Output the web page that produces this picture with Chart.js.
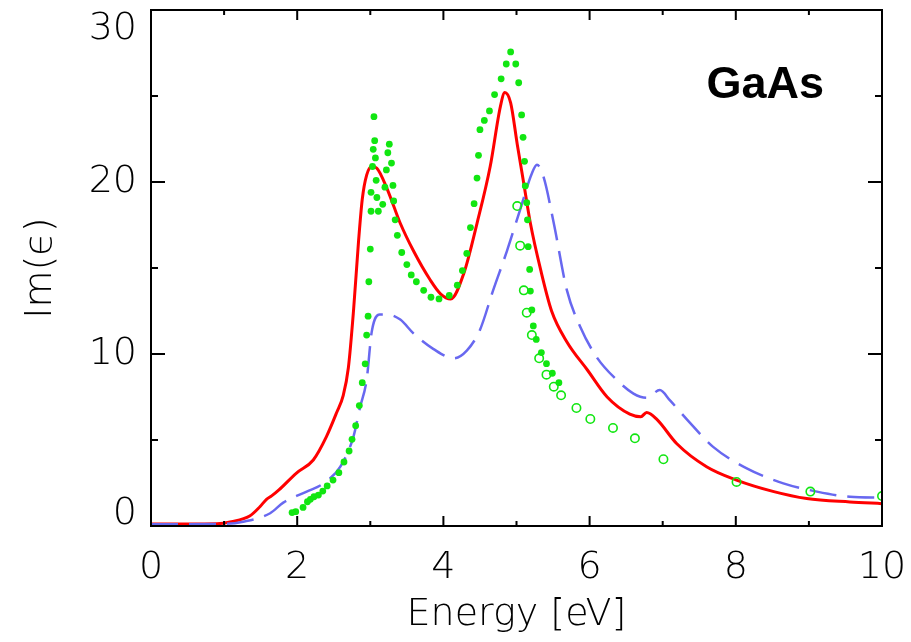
<!DOCTYPE html>
<html><head><meta charset="utf-8">
<script src="https://cdn.jsdelivr.net/npm/chart.js@4.4.1/dist/chart.umd.min.js"></script>
<style>html,body{margin:0;padding:0;background:#fff;}canvas{display:block;}</style>
</head><body>
<canvas id="c" width="911" height="642"></canvas>
<script>
// ---- data ----
const redEnergy = [0.0,0.5,0.9,1.1,1.35,1.49,1.58,1.65,1.75,1.99,2.22,2.40,2.54,2.63,2.70,2.77,2.84,2.89,2.95,3.02,3.09,3.23,3.32,3.41,3.59,3.82,3.96,4.10,4.28,4.46,4.64,4.78,4.84,4.92,5.01,5.10,5.19,5.33,5.48,5.69,5.97,6.24,6.55,6.70,6.78,6.92,7.19,7.60,8.01,8.52,8.97,9.56,10.0];
const redIm     = [0.12,0.12,0.13,0.25,0.58,1.12,1.55,1.75,2.1,3.08,3.84,5.2,6.6,7.6,9.2,12.5,16.6,19.0,20.4,20.9,20.8,19.6,18.6,17.6,16.0,14.3,13.5,13.2,14.7,17.6,20.9,24.4,25.2,24.6,22.2,19.9,17.6,14.9,12.5,10.7,9.07,7.5,6.5,6.35,6.6,6.2,4.8,3.45,2.67,2.0,1.6,1.4,1.3];

const blueEnergy = [0.0,1.0,1.26,1.63,1.81,2.13,2.36,2.59,2.77,2.86,2.95,3.02,3.13,3.23,3.41,3.59,3.86,4.14,4.32,4.50,4.68,4.87,5.05,5.21,5.28,5.37,5.51,5.69,5.87,6.10,6.37,6.60,6.78,6.96,7.10,7.33,7.69,8.15,8.65,9.11,9.56,10.0];
const blueIm     = [0.1,0.12,0.25,0.74,1.36,2.0,2.48,3.45,5.2,6.9,8.5,11.3,12.3,12.3,12.0,11.2,10.3,9.75,10.2,11.4,13.7,16.0,18.4,20.5,21.0,20.3,17.6,13.7,11.6,9.8,8.5,7.7,7.45,7.9,7.3,6.2,4.6,3.35,2.48,2.0,1.7,1.65];

const expAEnergy = [1.93,1.98,2.08,2.14,2.18,2.23,2.29,2.35,2.41,2.49,2.57,2.64,2.71,2.75,2.80,2.85,2.89,2.93,2.95,2.97,2.98,3.00,3.01,3.01,3.03,3.04,3.05,3.06,3.07,3.08,3.09,3.11,3.17,3.20,3.22,3.24,3.26,3.29,3.31,3.32,3.34,3.37,3.43,3.50,3.56,3.63,3.73,3.83,3.94,4.08,4.19,4.26,4.32,4.37,4.42,4.46,4.48,4.50,4.56,4.63,4.70,4.79,4.86,4.92,4.99,5.03,5.07,5.09,5.11,5.12,5.14,5.15,5.16,5.18,5.19,5.21,5.23,5.27,5.34,5.41,5.49,5.58];
const expAIm     = [0.78,0.83,1.08,1.41,1.55,1.70,1.80,2.03,2.33,2.67,3.10,3.72,4.36,5.04,5.83,7.00,8.33,9.43,11.1,12.2,14.2,16.1,18.3,19.4,20.9,21.9,23.8,22.4,21.4,20.1,19.1,18.3,18.7,19.7,20.7,21.7,22.2,21.1,19.8,18.9,17.8,16.9,15.9,15.2,14.6,14.2,13.7,13.3,13.2,13.4,14.0,14.85,15.85,17.35,18.74,20.23,21.55,23.04,23.58,24.13,25.08,26.0,26.86,27.56,26.86,25.77,23.9,22.6,21.2,19.77,18.8,17.8,16.24,14.92,13.66,12.56,11.63,10.85,10.08,9.44,8.88,8.33];

const expBEnergy = [5.01,5.05,5.10,5.14,5.21,5.31,5.41,5.51,5.61,5.82,6.01,6.32,6.62,7.01,8.01,9.02,10.0];
const expBIm     = [18.6,16.3,13.7,12.4,11.1,9.75,8.8,8.1,7.6,6.86,6.22,5.70,5.1,3.88,2.56,2.0,1.74];

const xTickValues = [0,2,4,6,8,10];
const xMinorTicks = [1,3,5,7,9];
const yTickValues = [0,10,20,30];
const yMinorTicks = [5,15,25];
const xTitle = 'Energy [eV]';
const yTitle = 'Im(\u03F5)';
const materialLabel = 'GaAs';
const materialLabelPos = {x: 7.6, y: 24.9};

// ---- helpers ----
const pairs = (xs, ys) => xs.map((x, i) => ({x, y: ys[i]}));
const thinFont = '"DejaVu Sans", sans-serif';
const green = '#11e611';

const frameTicks = {
  id: 'frameTicks',
  afterDatasetsDraw(chart) {
    const {ctx, chartArea: a, scales: {x, y}} = chart;
    ctx.save();
    ctx.strokeStyle = '#000';
    ctx.lineWidth = 2;
    ctx.strokeRect(a.left, a.top, a.right - a.left, a.bottom - a.top);
    ctx.beginPath();
    const xt = (v, len) => { const p = x.getPixelForValue(v);
      ctx.moveTo(p, a.bottom); ctx.lineTo(p, a.bottom - len);
      ctx.moveTo(p, a.top); ctx.lineTo(p, a.top + len); };
    const yt = (v, len) => { const p = y.getPixelForValue(v);
      ctx.moveTo(a.left, p); ctx.lineTo(a.left + len, p);
      ctx.moveTo(a.right, p); ctx.lineTo(a.right - len, p); };
    xTickValues.forEach(v => xt(v, 10));
    xMinorTicks.forEach(v => xt(v, 5));
    yTickValues.forEach(v => yt(v, 14));
    yMinorTicks.forEach(v => yt(v, 7));
    ctx.stroke();
    ctx.fillStyle = '#000';
    ctx.font = 'bold 45px "Liberation Sans", Arial, sans-serif';
    ctx.textAlign = 'left';
    ctx.textBaseline = 'alphabetic';
    ctx.fillText(materialLabel, x.getPixelForValue(materialLabelPos.x), y.getPixelForValue(materialLabelPos.y));
    ctx.restore();
  }
};

new Chart(document.getElementById('c'), {
  type: 'scatter',
  data: {
    datasets: [
      { label: 'exp A', data: pairs(expAEnergy, expAIm), showLine: false,
        pointRadius: 3.4, pointBackgroundColor: green, pointBorderWidth: 0, pointBorderColor: green },
      { label: 'exp B', data: pairs(expBEnergy, expBIm), showLine: false,
        pointRadius: 4.2, pointBackgroundColor: 'rgba(0,0,0,0)', pointBorderWidth: 1.6, pointBorderColor: green },
      { label: 'calc dashed', data: pairs(blueEnergy, blueIm), showLine: true, pointRadius: 0,
        borderColor: '#6868f0', borderWidth: 2.5, borderDash: [27, 11], cubicInterpolationMode: 'monotone' },
      { label: 'calc solid', data: pairs(redEnergy, redIm), showLine: true, pointRadius: 0,
        borderColor: '#ff0000', borderWidth: 3, cubicInterpolationMode: 'monotone' }
    ]
  },
  options: {
    responsive: false,
    animation: false,
    events: [],
    layout: { padding: { left: 0, top: 10, right: 29, bottom: 0 } },
    plugins: { legend: { display: false }, tooltip: { enabled: false } },
    scales: {
      x: {
        type: 'linear', min: 0, max: 10,
        grid: { display: false, drawTicks: false },
        border: { display: false },
        afterBuildTicks: s => { s.ticks = xTickValues.map(v => ({value: v})); },
        ticks: { color: '#000', padding: 19, font: { family: thinFont, size: 38, weight: 200 }, maxRotation: 0, autoSkip: false },
        title: { display: true, text: xTitle, color: '#000', font: { family: thinFont, size: 38, weight: 200 }, padding: { top: 0, bottom: 4 } },
        afterFit: s => { s.height = 116; s.paddingLeft = 0; s.paddingRight = 0; s.paddingTop = 0; s.paddingBottom = 0; }
      },
      y: {
        type: 'linear', min: 0, max: 30,
        grid: { display: false, drawTicks: false },
        border: { display: false },
        afterBuildTicks: s => { s.ticks = yTickValues.map(v => ({value: v})); },
        ticks: {
          color: '#000', padding: 14, autoSkip: false,
          font: ctx => ({ family: thinFont, size: 38, weight: 200,
                          lineHeight: (ctx.tick && ctx.tick.value === 0) ? 0.6 : 1.0 }),
          callback: v => v === 30 ? ['', '30'] : (v === 0 ? ['0', ''] : String(v))
        },
        title: { display: true, text: yTitle, color: '#000', font: { family: thinFont, size: 38, weight: 200 }, padding: { top: 18, bottom: 0 } },
        afterFit: s => { s.width = 151; s.paddingLeft = 0; s.paddingRight = 0; s.paddingTop = 0; s.paddingBottom = 0; }
      }
    }
  },
  plugins: [frameTicks]
});
</script>
</body></html>
